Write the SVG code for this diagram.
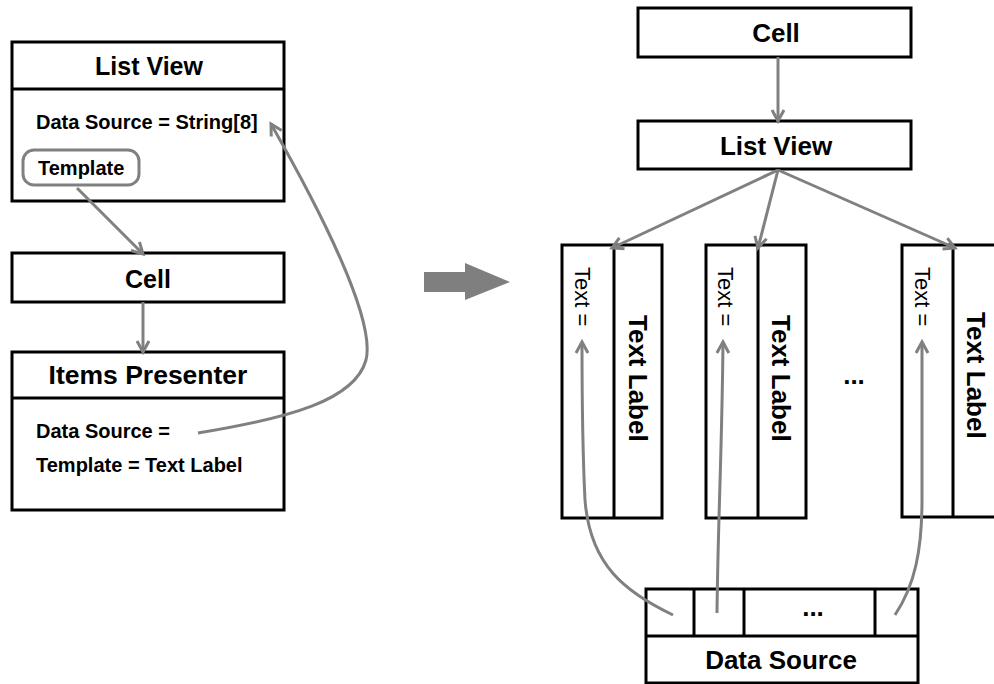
<svg xmlns="http://www.w3.org/2000/svg" width="994" height="684" viewBox="0 0 994 684">
<style>
.box{fill:#fff;stroke:#000;stroke-width:3}
.div{stroke:#000;stroke-width:3;fill:none}
.t{font-family:"Liberation Sans",Arial,sans-serif;font-weight:bold;fill:#000}
.r{font-family:"Liberation Sans",Arial,sans-serif;fill:#000}
.c{text-anchor:middle}
.ln{fill:none;stroke:#808080;stroke-width:3;marker-end:url(#ah)}
</style>
<defs>
<marker id="ah" markerUnits="userSpaceOnUse" markerWidth="30" markerHeight="30" refX="0" refY="0" viewBox="-15 -15 30 30" orient="auto" overflow="visible">
<path d="M-11,-6 L0,0 L-11,6" fill="none" stroke="#808080" stroke-width="3" stroke-linejoin="miter"/>
</marker>
</defs>
<rect width="994" height="684" fill="#fff"/>

<g id="left-listview">
<rect class="box" x="12" y="42" width="272" height="159"/>
<line class="div" x1="12" y1="89" x2="284" y2="89"/>
<text class="t c" x="149" y="75" font-size="25">List View</text>
<text class="t" x="36" y="129" font-size="20">Data Source = String[8]</text>
<rect x="23" y="150" width="116" height="35" rx="11" fill="none" stroke="#808080" stroke-width="3"/>
<text class="t" x="38" y="175" font-size="20">Template</text>
</g>

<g id="left-cell">
<rect class="box" x="12" y="253" width="272" height="49"/>
<text class="t c" x="148" y="288" font-size="25">Cell</text>
</g>

<g id="items-presenter">
<rect class="box" x="12" y="352" width="272" height="158"/>
<line class="div" x1="12" y1="398" x2="284" y2="398"/>
<text class="t c" x="148" y="384" font-size="26.5">Items Presenter</text>
<text class="t" x="36" y="438" font-size="20">Data Source =</text>
<text class="t" x="36" y="472" font-size="20">Template = Text Label</text>
</g>

<g id="big-arrow">
<polygon points="424,272 465,272 465,263 510,282 465,300 465,292 424,292" fill="#7f7f7f"/>
</g>

<g id="right-cell">
<rect class="box" x="638" y="8" width="273" height="49"/>
<text class="t c" x="776" y="42" font-size="26">Cell</text>
</g>

<g id="right-listview">
<rect class="box" x="638" y="121" width="273" height="48"/>
<text class="t c" x="776" y="155" font-size="26">List View</text>
</g>

<g id="item1">
<rect class="box" x="562" y="245" width="100" height="273"/>
<line class="div" x1="614" y1="245" x2="614" y2="518"/>
<text class="r" transform="translate(575,267) rotate(90)" font-size="22">Text =</text>
<text class="t" transform="translate(629,315) rotate(90)" font-size="26">Text Label</text>
</g>

<g id="item2">
<rect class="box" x="706" y="245" width="100" height="273"/>
<line class="div" x1="758" y1="245" x2="758" y2="518"/>
<text class="r" transform="translate(718,267) rotate(90)" font-size="22">Text =</text>
<text class="t" transform="translate(772,315) rotate(90)" font-size="26">Text Label</text>
</g>

<g id="ellipsis">
<text class="t c" x="854" y="384" font-size="26">...</text>
</g>

<g id="item3">
<rect class="box" x="902" y="245" width="102" height="272"/>
<line class="div" x1="953" y1="245" x2="953" y2="517"/>
<text class="r" transform="translate(915,267) rotate(90)" font-size="22">Text =</text>
<text class="t" transform="translate(967,312) rotate(90)" font-size="26">Text Label</text>
</g>

<g id="data-source">
<rect class="box" x="646" y="589" width="272" height="94"/>
<line class="div" x1="646" y1="636" x2="918" y2="636"/>
<line class="div" x1="694" y1="589" x2="694" y2="636"/>
<line class="div" x1="744" y1="589" x2="744" y2="636"/>
<line class="div" x1="875" y1="589" x2="875" y2="636"/>
<text class="t c" x="813" y="616" font-size="26">...</text>
<text class="t c" x="781" y="669" font-size="26">Data Source</text>
</g>

<g id="connectors">
<path class="ln" d="M77,188 L143,254"/>
<path class="ln" d="M143,302 L143,352"/>
<path class="ln" d="M198,433 C290,418 355,400 366,360 C376,320 320,210 271,124"/>
<path class="ln" d="M778,57 L778,121"/>
<path class="ln" d="M778,170 L612,248"/>
<path class="ln" d="M778,170 L758,248"/>
<path class="ln" d="M778,170 L955,248"/>
<path class="ln" d="M673,615 C625,592 590,565 585,500 C583,460 582,400 582,342"/>
<path class="ln" d="M717,613 C718,520 722,450 723,342"/>
<path class="ln" d="M895,615 C915,585 922,550 922,500 L922,342"/>
</g>
</svg>
